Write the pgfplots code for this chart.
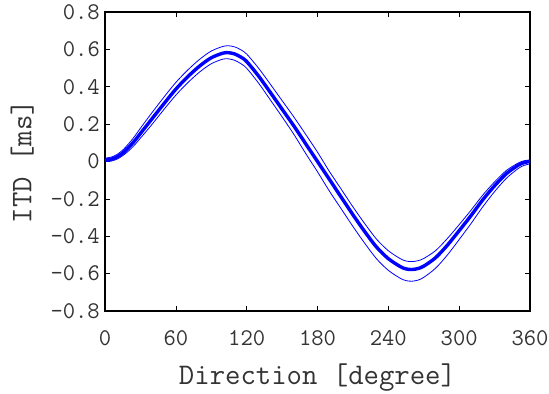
\documentclass[border=0pt]{standalone}
\usepackage{fontspec}
\usepackage{pgfplots}
\pgfplotsset{compat=1.18}
\usepackage{pgfplotstable}
\pgfplotstableread{
th c u l
0 0.008 0.018 -0.001
5 0.012 0.023 0.002
10 0.024 0.037 0.012
15 0.045 0.061 0.031
20 0.075 0.095 0.057
25 0.11 0.134 0.088
30 0.15 0.178 0.125
35 0.19 0.221 0.162
40 0.23 0.263 0.200
50 0.31 0.345 0.279
60 0.387 0.423 0.355
70 0.453 0.489 0.421
80 0.51 0.546 0.478
90 0.555 0.591 0.523
100 0.58 0.616 0.548
105 0.582 0.619 0.549
110 0.575 0.613 0.541
115 0.559 0.598 0.524
120 0.535 0.575 0.499
130 0.458 0.500 0.420
140 0.37 0.414 0.330
150 0.28 0.326 0.239
160 0.19 0.238 0.145
170 0.095 0.145 0.043
180 0.0 0.05 -0.055
190 -0.095 -0.0525 -0.1575
200 -0.19 -0.1475 -0.2525
210 -0.285 -0.2425 -0.3475
220 -0.375 -0.3325 -0.4375
230 -0.458 -0.4155 -0.5205
240 -0.52 -0.4775 -0.5825
250 -0.562 -0.5195 -0.6245
255 -0.575 -0.5325 -0.6375
260 -0.578 -0.5355 -0.6405
265 -0.573 -0.5310 -0.6350
270 -0.56 -0.519 -0.620
280 -0.515 -0.477 -0.571
290 -0.448 -0.412 -0.5005
300 -0.37 -0.338 -0.4175
310 -0.29 -0.261 -0.3325
320 -0.205 -0.1795 -0.2425
330 -0.13 -0.109 -0.161
340 -0.065 -0.048 -0.09
350 -0.02 -0.008 -0.0375
355 -0.006 0.004 -0.021
360 0.0 0.0085 -0.0125
}\itd
\begin{document}
\begin{tikzpicture}
\begin{axis}[name=ax, scale only axis, width=425bp, height=299bp,
  xmin=0, xmax=360, ymin=-0.8, ymax=0.8,
  xtick={0,60,120,180,240,300,360},
  xticklabels={0,60,120,180,240,300,360},
  ytick={-0.8,-0.6,-0.4,-0.2,0,0.2,0.4,0.6,0.8},
  yticklabels={-0.8,-0.6,-0.4,-0.2,0,0.2,0.4,0.6,0.8},
  tick align=inside, major tick length=5bp,
  tick style={black, line width=0.6bp},
  axis line style={black, line width=1.2bp},
  ticklabel style={font=\fontsize{24}{24}\selectfont\ttfamily, inner sep=0pt, text=black!80},
  xticklabel style={anchor=center, yshift=-27bp},
  yticklabel style={anchor=east, xshift=-5bp},
  xlabel={Direction [degree]}, ylabel={ITD [ms]},
  label style={font=\fontsize{30}{30}\selectfont\ttfamily, inner sep=0pt, text=black!80},
  xlabel style={at={(axis description cs:0.5,-0.224)}, anchor=center},
  ylabel style={at={(axis description cs:-0.195,0.5)}, anchor=center},
]
\addplot[blue, line width=0.8bp, smooth] table[x=th,y=u]{\itd};
\addplot[blue, line width=0.8bp, smooth] table[x=th,y=l]{\itd};
\addplot[blue, line width=3.4bp, smooth] table[x=th,y=c]{\itd};
\end{axis}
\path[use as bounding box] ([xshift=-105bp,yshift=-83bp]ax.south west) rectangle ([xshift=19bp,yshift=12bp]ax.north east);
\end{tikzpicture}
\end{document}
